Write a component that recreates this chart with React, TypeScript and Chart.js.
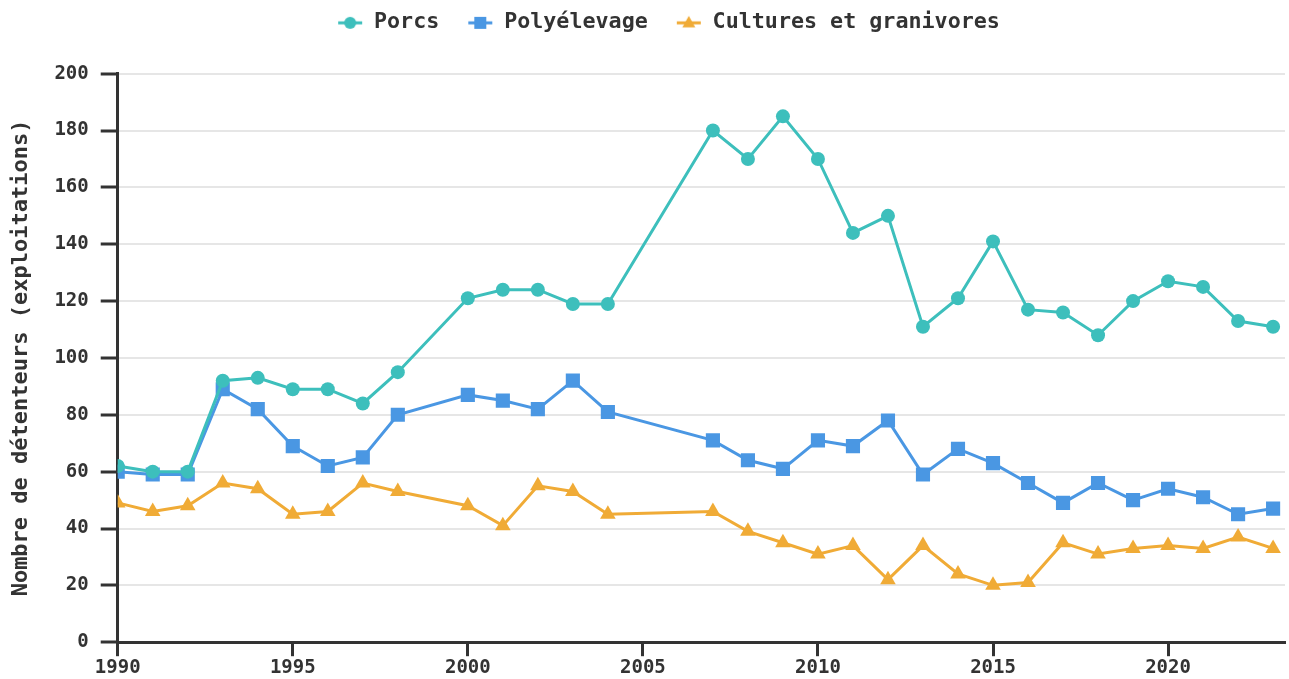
import { useEffect, useRef } from "react";
import { Chart, registerables } from "chart.js";

Chart.register(...registerables);

const years = [1990, 1991, 1992, 1993, 1994, 1995, 1996, 1997, 1998, 2000, 2001, 2002, 2003, 2004, 2007, 2008, 2009, 2010, 2011, 2012, 2013, 2014, 2015, 2016, 2017, 2018, 2019, 2020, 2021, 2022, 2023];
const porcs = [62, 60, 60, 92, 93, 89, 89, 84, 95, 121, 124, 124, 119, 119, 180, 170, 185, 170, 144, 150, 111, 121, 141, 117, 116, 108, 120, 127, 125, 113, 111];
const polyelevage = [60, 59, 59, 89, 82, 69, 62, 65, 80, 87, 85, 82, 92, 81, 71, 64, 61, 71, 69, 78, 59, 68, 63, 56, 49, 56, 50, 54, 51, 45, 47];
const cultures = [49, 46, 48, 56, 54, 45, 46, 56, 53, 48, 41, 55, 53, 45, 46, 39, 35, 31, 34, 22, 34, 24, 20, 21, 35, 31, 33, 34, 33, 37, 33];
const xTickValues = [1990, 1995, 2000, 2005, 2010, 2015, 2020];
const seriesLabels = ["Porcs", "Polyélevage", "Cultures et granivores"];
const yTitle = "Nombre de détenteurs (exploitations)";

const COLORS = ["#3dbfbc", "#4a97e3", "#f0ab36"];
const STYLES = ["circle", "rect", "triangle"];
const RADII = [7, 10, 9];
const FONT = "'DejaVu Sans Mono', monospace";
const TEXT = "#333333";

function legendIcon(color: string, style: string) {
  const c = document.createElement("canvas");
  c.width = 26;
  c.height = 18;
  const ctx = c.getContext("2d")!;
  ctx.strokeStyle = color;
  ctx.fillStyle = color;
  ctx.lineWidth = 3;
  ctx.beginPath();
  ctx.moveTo(1, 9);
  ctx.lineTo(25, 9);
  ctx.stroke();
  ctx.beginPath();
  if (style === "circle") {
    ctx.arc(13, 9, 6, 0, Math.PI * 2);
  } else if (style === "rect") {
    ctx.rect(7, 3, 12, 12);
  } else {
    ctx.moveTo(13, 2);
    ctx.lineTo(19.5, 13.5);
    ctx.lineTo(6.5, 13.5);
    ctx.closePath();
  }
  ctx.fill();
  return c;
}

const legendGap = {
  id: "legendGap",
  beforeUpdate(chart: any) {
    const lg = chart.legend;
    if (lg && !lg.__patched) {
      const orig = lg.fit.bind(lg);
      lg.fit = function () {
        orig();
        this.height += 30;
      };
      lg.__patched = true;
    }
  },
  afterLayout(chart: any) {
    const lg = chart.legend;
    if (lg) {
      lg.left += 22;
      lg.right += 22;
    }
  },
};

export default function App() {
  const ref = useRef<HTMLCanvasElement | null>(null);
  useEffect(() => {
    if (!ref.current) return;
    const series = [porcs, polyelevage, cultures];
    const icons = COLORS.map((c, i) => legendIcon(c, STYLES[i]));
    const chart = new Chart(ref.current, {
      type: "line",
      data: {
        datasets: series.map((vals, i) => ({
          label: seriesLabels[i],
          data: vals.map((v, j) => ({ x: years[j], y: v })),
          borderColor: COLORS[i],
          backgroundColor: COLORS[i],
          borderWidth: 3,
          pointStyle: STYLES[i] as any,
          pointRadius: RADII[i],
          pointHoverRadius: RADII[i],
          pointBorderWidth: 0,
          pointBackgroundColor: COLORS[i],
          tension: 0,
        })),
      },
      plugins: [legendGap],
      options: {
        animation: false,
        responsive: true,
        maintainAspectRatio: false,
        layout: { autoPadding: false, padding: { left: 8, right: 4, top: -16, bottom: 0 } },
        plugins: {
          tooltip: { enabled: false },
          legend: {
            position: "top",
            labels: {
              usePointStyle: true,
              pointStyleWidth: 26,
              padding: 28,
              color: TEXT,
              font: { family: FONT, size: 21.7, weight: "bold" },
              generateLabels: (ch: any) =>
                ch.data.datasets.map((d: any, i: number) => ({
                  text: d.label,
                  pointStyle: icons[i],
                  fillStyle: COLORS[i],
                  strokeStyle: COLORS[i],
                  lineWidth: 0,
                  hidden: false,
                  datasetIndex: i,
                  fontColor: TEXT,
                })),
            },
          },
        },
        scales: {
          x: {
            type: "linear",
            min: 1990,
            max: 2023.34,
            afterBuildTicks: (axis: any) => {
              axis.ticks = xTickValues.map((v) => ({ value: v }));
            },
            afterFit: (axis: any) => {
              axis.paddingRight = 0;
            },
            ticks: {
              color: TEXT,
              padding: 0,
              maxRotation: 0,
              autoSkip: false,
              font: { family: FONT, size: 19, weight: "bold" },
              callback: (v: any) => String(v),
            },
            grid: {
              drawOnChartArea: false,
              tickLength: 14,
              tickWidth: 3,
              tickColor: "#333333",
            },
            border: { color: "#333333", width: 3 },
          },
          y: {
            min: 0,
            max: 200,
            ticks: {
              stepSize: 20,
              color: TEXT,
              padding: 12,
              font: { family: FONT, size: 19, weight: "bold" },
            },
            grid: {
              color: "#e6e6e6",
              lineWidth: 2,
              tickLength: 17,
              tickWidth: 3,
              tickColor: "#333333",
            },
            border: { color: "#333333", width: 3 },
            title: {
              display: true,
              text: yTitle,
              color: TEXT,
              padding: { top: 0, bottom: 8 },
              font: { family: FONT, size: 22, weight: "bold" },
            },
          },
        },
      },
    });
    return () => chart.destroy();
  }, []);
  return (
    <div style={{ position: "fixed", left: 0, top: 0, width: 1289, height: 679, background: "#fff" }}>
      <canvas ref={ref} />
    </div>
  );
}
